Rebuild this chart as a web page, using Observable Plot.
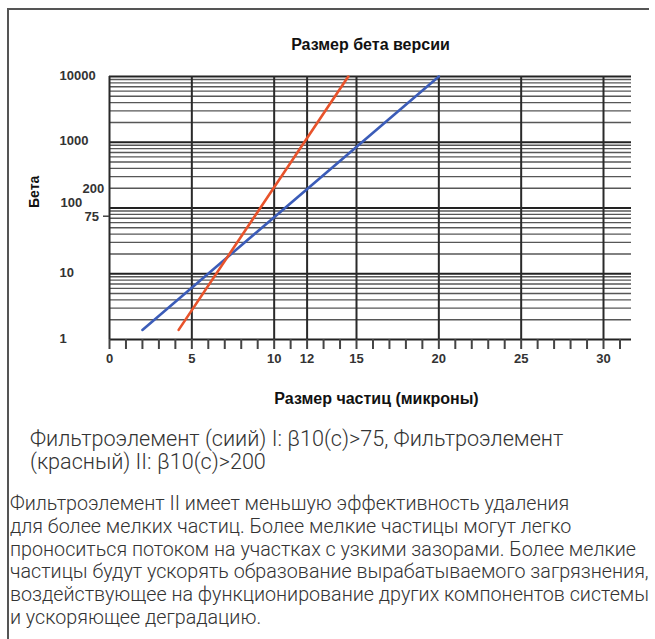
<!DOCTYPE html>
<html><head><meta charset="utf-8">
<script src="https://cdn.jsdelivr.net/npm/d3@7"></script>
<script src="https://cdn.jsdelivr.net/npm/@observablehq/plot@0.6"></script>
<style>
html,body{margin:0;padding:0;background:#fff;}
body{width:655px;height:639px;overflow:hidden;position:relative;font-family:"Liberation Sans",Arial,sans-serif;}
#frame{position:absolute;left:7px;top:8px;width:640px;height:630px;border-left:2px solid #555;border-top:2px solid #555;}
#chart{position:absolute;left:0;top:0;}
.note{position:absolute;white-space:nowrap;color:#333;font-family:Roboto,"Liberation Sans",sans-serif;font-weight:300;}
#note1{left:30px;top:427px;line-height:23px;font-size:21.6px;}
#note2{left:10px;top:493px;line-height:22.8px;font-size:19.7px;}
</style></head>
<body>
<div id="frame"></div>
<div id="chart"></div>
<div class="note" id="note1"></div>
<div class="note" id="note2"></div>
<script>
// ---- data ----
const titleText = "Размер бета версии";
const xLabelText = "Размер частиц (микроны)";
const yLabelText = "Бета";
const blueX = [2, 20];
const blueY = [1.4, 10000];
const redX = [4.2, 14.5];
const redY = [1.4, 10000];
const xTickValues = [0,1,2,3,4,5,6,7,8,9,10,11,12,13,14,15,16,17,18,19,20,21,22,23,24,25,26,27,28,29,30,31];
const xTickLabels = [0,5,10,12,15,20,25,30];
const xGridValues = [5,10,12,15,20,25,30];
const yMajorValues = [1,10,100,1000,10000];
const yMinorValues = [2,3,4,5,6,7,8,9,20,30,40,50,60,70,80,90,200,300,400,500,600,700,800,900,2000,3000,4000,5000,6000,7000,8000,9000];
const yMainLabels = [1,10,1000,10000];
const yLabel100 = [100];
const yExtraLabel200 = [200];
const yExtraLabel75 = [75];
const note1Lines = ["Фильтроэлемент (сиий) I: β10(с)>75, Фильтроэлемент", "(красный) II: β10(с)>200"];
const note2Lines = [
  "Фильтроэлемент II имеет меньшую эффективность удаления",
  "для более мелких частиц. Более мелкие частицы могут легко",
  "проноситься потоком на участках с узкими зазорами. Более мелкие",
  "частицы будут ускорять образование вырабатываемого загрязнения,",
  "воздействующее на функционирование других компонентов системы",
  "и ускоряющее деградацию."
];

const blue = blueX.map((x, i) => ({x, y: blueY[i]}));
const red = redX.map((x, i) => ({x, y: redY[i]}));
const tickFont = {fontSize: 13, fontWeight: "bold", fontFamily: "Liberation Sans, Arial, sans-serif", fill: "#333"};

const chart = Plot.plot({
  width: 655,
  height: 420,
  marginLeft: 109,
  marginRight: 24,
  marginTop: 76,
  marginBottom: 81,
  x: {domain: [0, 31.7], axis: null},
  y: {type: "log", domain: [1, 10000], axis: null},
  style: {background: "transparent", overflow: "visible", color: "#333"},
  marks: [
    Plot.ruleY(yMinorValues, {stroke: "#3a3a3a", strokeWidth: 1.4, strokeOpacity: 0.85}),
    Plot.ruleY(yMajorValues, {stroke: "#222", strokeWidth: 2.2}),
    Plot.ruleX(xGridValues, {stroke: "#2a2a2a", strokeWidth: 2}),
    Plot.ruleX([0], {stroke: "#2a2a2a", strokeWidth: 2}),
    Plot.axisX({ticks: xTickValues, tickSize: 10, tickPadding: 4, strokeWidth: 2, stroke: "#444", label: null,
      tickFormat: d => xTickLabels.includes(d) ? String(d) : "", ...tickFont}),
    Plot.axisY({ticks: yExtraLabel75, tickSize: 6, tickFormat: () => "", strokeWidth: 1.5, stroke: "#444", label: null}),
    Plot.line(blue, {x: "x", y: "y", stroke: "#3b5cb8", strokeWidth: 2.6}),
    Plot.line(red, {x: "x", y: "y", stroke: "#e8532b", strokeWidth: 2.6}),
    Plot.text(yMainLabels, {y: d => d, text: d => String(d), frameAnchor: "left", dx: -50, dy: -1, textAnchor: "start", ...tickFont}),
    Plot.text(yLabel100, {y: d => d, text: d => String(d), frameAnchor: "left", dx: -49, dy: -5, textAnchor: "start", ...tickFont}),
    Plot.text(yExtraLabel200, {y: d => d, text: d => String(d), frameAnchor: "left", dx: -27, dy: 1, textAnchor: "start", ...tickFont}),
    Plot.text(yExtraLabel75, {y: d => d, text: d => String(d), frameAnchor: "left", dx: -25, dy: 1, textAnchor: "start", ...tickFont}),
    Plot.text([titleText], {frameAnchor: "top", dy: -38, fontSize: 16, fontWeight: "bold", fill: "#111", fontFamily: "Liberation Sans, Arial, sans-serif"}),
    Plot.text([xLabelText], {frameAnchor: "bottom", dy: 64, dx: 6, fontSize: 16, fontWeight: "bold", fill: "#111", fontFamily: "Liberation Sans, Arial, sans-serif"}),
    Plot.text([yLabelText], {frameAnchor: "left", rotate: -90, dx: -75, fontSize: 14, fontWeight: "bold", fill: "#111", fontFamily: "Liberation Sans, Arial, sans-serif"})
  ]
});
document.getElementById("chart").appendChild(chart);
document.getElementById("note1").innerHTML = note1Lines.join("<br>");
document.getElementById("note2").innerHTML = note2Lines.join("<br>");
</script>
</body></html>
